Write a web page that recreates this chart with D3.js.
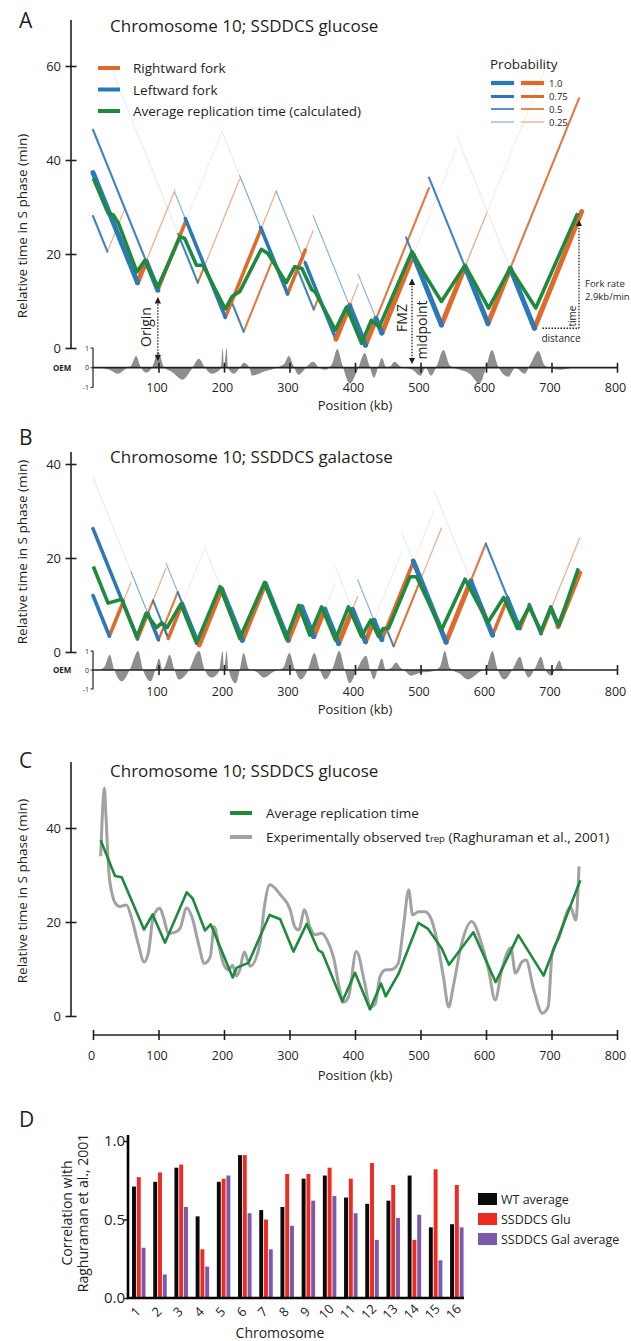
<!DOCTYPE html>
<html><head><meta charset="utf-8">
<script src="https://cdn.jsdelivr.net/npm/d3@7"></script>
<style>
body{margin:0;background:#fff;}
svg{display:block;}
</style></head><body>
<svg id="chart" width="631" height="1341"></svg>
<script>
// ---------------- DATA ----------------
const forkRate = 2.9; // kb/min
const positionTicks = [100, 200, 300, 400, 500, 600, 700, 800];
const positionTicksC = [0, 100, 200, 300, 400, 500, 600, 700, 800];
const timeTicksA = [0, 20, 40, 60];
const timeTicksB = [0, 20, 40];
const probabilityLevels = [1.0, 0.75, 0.5, 0.25];

// Panel A (glucose): origins [kb, firing time min]
const glucoseOrigins = [[22,20.5],[68,13.9],[99,12.3],[160,13.9],[202,6.5],[230,3.5],[297,11.5],[337,8.2],[371,1.9],[416,0.6],[441,3.2],[532,4.9],[603,5.2],[674,4.2]];
// forks: [origin index, end kb, probability]
const glucoseForks = [
 [1,0,1],[1,81,1],[2,81,1],[2,141,0.75],[3,130,0.5],[3,170,0.5],[4,141,0.75],[4,256,0.75],[5,211,0.5],[5,275,0.5],
 [6,256,0.75],[6,324,0.75],[7,312,0.5],[7,344,0.5],[8,324,0.75],[8,392,1],[9,392,1],[9,432,1],[10,432,1],[10,489,1],
 [11,489,1],[11,568,1],[12,568,1],[12,637,1],[13,637,1],[13,746,1],
 [0,0,0.5],[0,48,0.25],[2,0,0.5],[3,26,0.1],[1,125,0.25],[4,125,0.25],[2,197,0.1],[6,197,0.1],[3,224,0.25],[6,224,0.25],
 [4,280,0.25],[8,280,0.25],[6,336,0.25],[9,336,0.25],[8,405,0.25],[10,405,0.25],[9,513,0.5],[12,513,0.5],[11,478,0.5],
 [10,555,0.1],[13,555,0.1],[11,601,0.25],[12,742,0.5],[11,696,0.1]
];
const glucoseAverage = [[0.5,36.1],[23,28.7],[31,28.3],[39,26.5],[67,16.2],[79,18.6],[99,13.0],[133,23.7],[140,23.3],[158,17.6],[168,17.6],[202,8.3],[212,10.9],[224,12.0],[257,21.0],[267,20.1],[295,13.9],[308,17.3],[319,16.9],[334,12.4],[339,12.0],[370,3.8],[387,8.7],[410,1.0],[425,5.9],[437,4.5],[487,20.5],[504,16.2],[532,9.9],[568,17.6],[604,8.5],[637,17.0],[676,8.5],[740,28.7]];
const glucoseOEM = [[10,0],[25,-0.1],[38,-0.3],[50,-0.05],[58,0.1],[66,0.6],[72,0.1],[81,-0.25],[90,0],[100,0.8],[108,0.05],[120,-0.2],[137,-0.6],[150,-0.1],[162,0.45],[170,0.05],[181,-0.3],[195,-0.05],[198,1.0],[200,0],[204,1.0],[206,0],[215,-0.3],[225,0.05],[230,0.25],[238,0.05],[243,-0.4],[260,-0.2],[280,0],[292,0.2],[299,0.6],[306,0.1],[314,-0.35],[325,0],[336,0.3],[345,0],[355,-0.1],[365,0.2],[373,0.95],[381,0.1],[392,-0.8],[404,-0.1],[415,0.75],[422,0.1],[429,-0.5],[436,0.1],[441,0.5],[448,0],[455,0.1],[460,0.3],[470,0.05],[488,-0.1],[500,-0.4],[508,0],[516,-0.4],[525,0.1],[535,0.9],[545,0.1],[560,-0.1],[575,-0.3],[590,-0.8],[600,0],[609,0.9],[618,0.1],[634,-0.45],[645,0],[659,-0.3],[668,0.2],[680,0.85],[690,0.1],[714,-0.1],[730,0]];

// Panel B (galactose)
const galactoseOrigins = [[25,3.4],[68,2.8],[100,2.6],[115,2.9],[162,1.5],[228,2.5],[298,2.5],[337,3.3],[375,1.8],[416,2.2],[441,2.6],[459,1.2],[539,2.1],[610,3.6],[652,5.0],[684,3.9],[710,5.4]];
const galactoseForks = [
 [0,0,0.75],[1,0,0.75],[0,46.5,0.75],[1,83.7,0.75],[2,83.7,0.75],[2,108,0.5],[3,108,0.5],[1,91.6,0.5],[3,91.6,0.5],
 [2,129.4,0.5],[4,129.4,0.5],[3,136.5,0.75],[4,136.5,0.75],[4,196.5,1],[5,196.5,1],[5,263,1],[6,263,1],[6,318.7,1],[7,318.7,1],
 [7,353.8,1],[8,353.8,1],[8,396,1],[9,396,1],[9,429,1],[10,429,1],[10,489,0.75],[12,489,1],[11,448,0.5],[11,500,0.5],
 [12,577,1],[13,577,1],[13,633,0.75],[14,633,0.75],[14,666,0.75],[15,666,0.75],[15,699,0.75],[16,699,0.75],[16,743,1],
 [12,600,0.5],[14,600,0.5],[15,743,0.25],
 [2,0,0.1],[0,58,0.25],[2,58,0.25],[1,111.5,0.25],[4,111.5,0.25],[3,170,0.1],[5,170,0.1],[7,370,0.1],[9,370,0.1],
 [8,404,0.25],[10,404,0.25],[9,471,0.1],[12,471,0.1],[10,521,0.1],[13,521,0.1],[11,532,0.25]
];
const galactoseAverage = [[0.5,18.2],[23,10.4],[44,11.2],[67,3.2],[81,8.2],[97,5.2],[105,6.2],[113,5.2],[134,10.2],[158,1.9],[194,13.9],[224,2.9],[262,14.8],[295,2.9],[314,9.9],[331,3.6],[349,9.6],[370,2.6],[390,9.6],[410,3.3],[424,6.8],[436,3.3],[443,5.0],[451,5.0],[484,16.0],[494,16.0],[532,4.7],[568,15.5],[603,6.3],[627,11.6],[648,5.0],[666,9.6],[684,4.4],[699,9.6],[711,5.6],[741,17.8]];
const galactoseOEM = [[10,0],[18,0.2],[25.6,0.8],[32,0.05],[44,-0.6],[56,0],[69,1.0],[76,0.05],[88,-0.6],[96,0.1],[101,0.6],[106,0],[110,0.2],[117,0.8],[124,0.05],[131,-0.5],[145,-0.1],[162,1.0],[170,0.05],[181,-0.4],[192,-0.1],[198,1.0],[200,0],[204,1.0],[207,0],[218,-0.7],[224,0],[230,0.9],[238,0.05],[250,-0.1],[261,-0.4],[275,-0.1],[290,0.1],[300,0.9],[308,0.05],[317,-0.5],[328,0],[338,0.9],[346,0.05],[355,-0.5],[366,0.1],[376,1.0],[384,0.05],[392,-0.7],[404,0.1],[417,0.75],[423,0],[429,-0.5],[435,0.1],[441,0.6],[447,0],[455,0.1],[463,0.4],[470,0.1],[478,-0.1],[485,-0.3],[500,-0.15],[520,-0.05],[530,0.2],[537,1.0],[545,0.1],[560,-0.2],[572,-0.5],[590,-0.1],[600,0.1],[610,1.0],[617,0.1],[628,-0.5],[640,0],[652,0.7],[658,0.05],[665,-0.4],[675,0.1],[684,0.7],[690,0.05],[700,-0.3],[706,0.1],[712,0.5],[718,0.05],[730,0]];

// Panel C
const averageTimeC = [[11.7,37.4],[33.6,29.8],[43.8,29.5],[77.9,18.4],[91.1,21.6],[109.9,15.6],[143,26.3],[152.2,25.0],[171,18.2],[179.7,19.5],[213.3,8.2],[219.5,10.3],[237.4,11.3],[269.5,21.5],[285.8,20.6],[306,13.7],[326.2,19.6],[344,14.0],[350.1,13.5],[380.6,3.1],[400,9.2],[422.9,1.4],[439.7,6.9],[446.9,4.2],[466.2,8.9],[496.7,19.8],[511,18.6],[532.3,14.4],[543.5,10.9],[580.7,17.8],[614.8,7.2],[649.4,17.2],[688,8.6],[744,28.9]];
const observedTrep = [[11.7,34],[14,42],[17.3,48.5],[20,42],[24,31],[30,25.5],[34,24],[41,23.3],[51,23.6],[59,20.8],[69,15.4],[78,11.5],[85,13.8],[92,21.1],[102,22.9],[108,20.8],[115,17.6],[125,17.8],[133,18.7],[143,23],[151,21.1],[161,15.4],[170,11.2],[179,12.6],[185,19],[192,15],[199,11.2],[207,9.8],[213,10.8],[219,8.5],[224,9.8],[231,13.6],[240,10.6],[255,15.5],[261,22.6],[270,27.9],[286,25.8],[301,22.6],[308,19],[314,18.3],[323,22.6],[331,19],[339,17.3],[349,17.6],[358,16],[367,12.6],[377,5.4],[382,2.9],[390,4],[402,13.7],[415,6.9],[423,1.9],[431,2.6],[438,8.3],[446,9.8],[456,9.9],[466,11.2],[474,19],[482,26.8],[488,21.5],[497,22.2],[507,22.2],[517,20.4],[525,16.2],[535,8.3],[543,1.9],[550,6.3],[563,15.5],[578,20.1],[593,15.5],[604,9.8],[614,3.4],[624,9.8],[638,14.5],[645,9.1],[655,11.5],[661,11.9],[673,5.5],[686,0.6],[695,2],[701,13.3],[711,16.5],[729,23.2],[737,20.4],[742,31.8]];

// Panel D
const chromosomes = ["1","2","3","4","5","6","7","8","9","10","11","12","13","14","15","16"];
const wtAverage   = [0.71,0.74,0.83,0.52,0.74,0.91,0.56,0.58,0.76,0.78,0.64,0.60,0.62,0.78,0.45,0.47];
const ssddcsGlu   = [0.77,0.80,0.85,0.31,0.76,0.91,0.50,0.79,0.79,0.83,0.76,0.86,0.72,0.37,0.82,0.72];
const ssddcsGal   = [0.32,0.15,0.58,0.20,0.78,0.54,0.31,0.46,0.62,0.65,0.54,0.37,0.51,0.53,0.24,0.45];
const barSeries = [
  {key:"WT average", values: wtAverage, color:"#0a0a0a"},
  {key:"SSDDCS Glu", values: ssddcsGlu, color:"#ee2b22"},
  {key:"SSDDCS Gal average", values: ssddcsGal, color:"#7b5aab"}
];

// ---------------- DRAWING ----------------
const FONT = "'Open Sans','Noto Sans',sans-serif";
const INK = "#231f20";
const BLUE = "#2b79b6", ORANGE = "#df6a2c", GREEN = "#1f8a3d", GREY = "#a2a2a2";
const svg = d3.select("#chart").attr("font-family", FONT);

const defs = svg.append("defs");
defs.append("marker").attr("id","arr").attr("viewBox","0 0 6 6").attr("refX",5).attr("refY",3)
  .attr("markerWidth",5).attr("markerHeight",5).attr("orient","auto-start-reverse")
  .append("path").attr("d","M0,0L6,3L0,6Z").attr("fill",INK);

const x = d3.scaleLinear().domain([0,800]).range([93,617]);
const widthFor = d3.scaleLinear().domain([0.1,0.25,0.5,0.75,1]).range([0.7,1.2,2.1,3.6,5]);
const opacityFor = d3.scaleLinear().domain([0.1,0.25,0.5,0.75,1]).range([0.22,0.55,0.9,1,1]);

function text(g, xp, yp, s, o = {}) {
  const t = g.append("text").attr("x", xp).attr("y", yp).text(s)
    .attr("font-size", o.size || 13).attr("fill", o.fill || INK)
    .attr("text-anchor", o.anchor || "start");
  if (o.weight) t.attr("font-weight", o.weight);
  if (o.rotate !== undefined) t.attr("transform", `rotate(${o.rotate},${xp},${yp})`);
  return t;
}

function yAxis(g, scale, xPos, top, values, fmt) {
  const ax = d3.axisLeft(scale).tickValues(values).tickSize(0).tickPadding(10);
  if (fmt) ax.tickFormat(fmt);
  const a = g.append("g").attr("transform", `translate(${xPos},0)`).call(ax)
    .attr("font-family", FONT).attr("font-size", 13);
  a.select(".domain").remove();
  a.append("line").attr("y1", top).attr("y2", scale(0)).attr("stroke", INK).attr("stroke-width", 1.6);
  a.selectAll(".tick").append("line").attr("x1", -5.5).attr("x2", 5.5).attr("stroke", INK).attr("stroke-width", 1.6);
  a.selectAll(".tick text").attr("fill", INK);
  return a;
}

function xAxis(g, yPos, values, baseline) {
  const ax = d3.axisBottom(x).tickValues(values).tickSize(0).tickFormat(d3.format("d"));
  const a = g.append("g").attr("transform", `translate(0,${yPos})`).call(ax)
    .attr("font-family", FONT).attr("font-size", 12.5);
  a.select(".domain").remove();
  a.append("line").attr("x1", x(0)).attr("x2", x(800)).attr("stroke", INK).attr("stroke-width", 1.7);
  a.selectAll(".tick").append("line").attr("y1", -5).attr("y2", 5).attr("stroke", INK).attr("stroke-width", 1.6);
  a.selectAll(".tick text").attr("y", baseline - yPos).attr("dy", 0).attr("fill", INK).attr("dx", -2);
  return a;
}

function forkPanel(origins, forks, average, oem, y, oemY, axisTop, ticks, axisY, tickBaseline, labelCenter, title, titleY, letter, letterY, posLabelY) {
  const g = svg.append("g");
  g.append("path").datum(oem)
    .attr("d", d3.area().x(d => x(d[0])).y0(oemY(0)).y1(d => oemY(d[1])).curve(d3.curveMonotoneX))
    .attr("fill", "#8e8e8e");
  const segs = forks.map(([oi, end, p]) => {
    const o = origins[oi];
    return {x0: o[0], t0: o[1], x1: end, t1: o[1] + Math.abs(end - o[0]) / forkRate, p, left: end < o[0]};
  }).sort((a, b) => (a.p - b.p) || ((a.left ? 1 : 0) - (b.left ? 1 : 0)));
  g.append("g").selectAll("line").data(segs).join("line")
    .attr("x1", d => x(d.x0)).attr("y1", d => y(d.t0))
    .attr("x2", d => x(d.x1)).attr("y2", d => y(d.t1))
    .attr("stroke", d => d.left ? BLUE : ORANGE)
    .attr("stroke-width", d => widthFor(d.p))
    .attr("stroke-opacity", d => opacityFor(d.p))
    .attr("stroke-linecap", "round");
  g.append("path").datum(average)
    .attr("d", d3.line().x(d => x(d[0])).y(d => y(d[1])))
    .attr("fill", "none").attr("stroke", GREEN).attr("stroke-width", 3.6)
    .attr("stroke-linejoin", "round");
  yAxis(g, y, 71, axisTop, ticks);
  xAxis(g, axisY, positionTicks, tickBaseline);
  g.append("line").attr("x1", x(0)).attr("x2", x(0)).attr("y1", oemY(1)).attr("y2", oemY(-1)).attr("stroke", INK).attr("stroke-width", 1.2);
  [1, 0, -1].forEach(v => {
    g.append("line").attr("x1", x(0) - 2.5).attr("x2", x(0)).attr("y1", oemY(v)).attr("y2", oemY(v)).attr("stroke", INK).attr("stroke-width", 1);
    text(g, x(0) - 4, oemY(v) + 2.5, String(v), {size: 7, anchor: "end"});
  });
  text(g, 53, oemY(0) + 3, "OEM", {size: 8, weight: "bold"});
  text(g, 27, labelCenter, "Relative time in S phase (min)", {size: 13.5, anchor: "middle", rotate: -90});
  text(g, 355, posLabelY, "Position (kb)", {size: 13, anchor: "middle"});
  text(g, 110, titleY, title, {size: 17});
  text(g, 19, letterY, letter, {size: 21});
  return g;
}

// Panel A
const yA = d3.scaleLinear().domain([0,60]).range([348,66]);
const oemA = d3.scaleLinear().domain([-1,1]).range([387.5,348]);
const gA = forkPanel(glucoseOrigins, glucoseForks, glucoseAverage, glucoseOEM, yA, oemA, 20, timeTicksA, 367.7, 392, 226, "Chromosome 10; SSDDCS glucose", 32, "A", 28, 410);

[["Rightward fork", ORANGE, 68], ["Leftward fork", BLUE, 89.5], ["Average replication time (calculated)", GREEN, 111]].forEach(([s, c, yy]) => {
  gA.append("line").attr("x1", 98).attr("x2", 120).attr("y1", yy).attr("y2", yy).attr("stroke", c).attr("stroke-width", 4);
  text(gA, 133, yy + 5, s, {size: 13.5});
});
text(gA, 490, 69, "Probability", {size: 13.5});
probabilityLevels.forEach((p, i) => {
  const yy = [83, 96.5, 109, 122][i];
  gA.append("line").attr("x1", 491).attr("x2", 514).attr("y1", yy).attr("y2", yy).attr("stroke", BLUE).attr("stroke-width", widthFor(p) * 0.85).attr("stroke-opacity", Math.max(0.7, opacityFor(p)));
  gA.append("line").attr("x1", 521).attr("x2", 544).attr("y1", yy).attr("y2", yy).attr("stroke", ORANGE).attr("stroke-width", widthFor(p) * 0.85).attr("stroke-opacity", Math.max(0.7, opacityFor(p)));
  text(gA, 549, yy + 3.5, p === 1 ? "1.0" : String(p), {size: 9.5});
});

const originMark = glucoseOrigins[2];
gA.append("line").attr("x1", x(originMark[0])).attr("x2", x(originMark[0]))
  .attr("y1", yA(originMark[1]) + 8).attr("y2", 360)
  .attr("stroke", INK).attr("stroke-width", 1.3).attr("stroke-dasharray", "1.5,1.5")
  .attr("marker-start", "url(#arr)").attr("marker-end", "url(#arr)");
text(gA, 151, 327, "Origin", {size: 14, anchor: "middle", rotate: -90});
const fmzKb = 487, fmzMin = 20.5;
gA.append("line").attr("x1", x(fmzKb)).attr("x2", x(fmzKb))
  .attr("y1", yA(fmzMin) + 28).attr("y2", 363)
  .attr("stroke", INK).attr("stroke-width", 1.3).attr("stroke-dasharray", "1.5,1.5")
  .attr("marker-start", "url(#arr)").attr("marker-end", "url(#arr)");
text(gA, 407, 318, "FMZ", {size: 14, anchor: "middle", rotate: -90});
text(gA, 427, 330, "midpoint", {size: 14, anchor: "middle", rotate: -90});
const lastO = glucoseOrigins[13], endKb = 742;
const endMin = lastO[1] + (endKb - lastO[0]) / forkRate;
gA.append("line").attr("x1", x(lastO[0]) + 8).attr("x2", x(endKb)).attr("y1", yA(lastO[1])).attr("y2", yA(lastO[1]))
  .attr("stroke", INK).attr("stroke-width", 1.3).attr("stroke-dasharray", "1.5,1.5");
gA.append("line").attr("x1", x(endKb)).attr("x2", x(endKb)).attr("y1", yA(lastO[1])).attr("y2", yA(endMin) + 3)
  .attr("stroke", INK).attr("stroke-width", 1.3).attr("stroke-dasharray", "1.5,1.5").attr("marker-end", "url(#arr)");
text(gA, 576, 316, "time", {size: 10, anchor: "middle", rotate: -90});
text(gA, 561, 342, "distance", {size: 10, anchor: "middle"});
text(gA, 585, 287, "Fork rate", {size: 9.5});
text(gA, 585, 300, "2.9kb/min", {size: 9.5});

// Panel B
const yB = d3.scaleLinear().domain([0,40]).range([652,464]);
const oemB = d3.scaleLinear().domain([-1,1]).range([689,651]);
forkPanel(galactoseOrigins, galactoseForks, galactoseAverage, galactoseOEM, yB, oemB, 452, timeTicksB, 670, 696, 552, "Chromosome 10; SSDDCS galactose", 463, "B", 445, 714);

// Panel C
const yC = d3.scaleLinear().domain([0,40]).range([1016,828]);
const gC = svg.append("g");
gC.append("path").datum(observedTrep)
  .attr("d", d3.line().x(d => x(d[0])).y(d => yC(d[1])).curve(d3.curveMonotoneX))
  .attr("fill", "none").attr("stroke", GREY).attr("stroke-width", 3).attr("stroke-linejoin", "round");
gC.append("path").datum(averageTimeC)
  .attr("d", d3.line().x(d => x(d[0])).y(d => yC(d[1])))
  .attr("fill", "none").attr("stroke", GREEN).attr("stroke-width", 2.6).attr("stroke-linejoin", "round");
yAxis(gC, yC, 71, 762, timeTicksB);
xAxis(gC, 1035, positionTicksC, 1060);
text(gC, 27, 891, "Relative time in S phase (min)", {size: 13.5, anchor: "middle", rotate: -90});
text(gC, 355, 1080, "Position (kb)", {size: 13, anchor: "middle"});
text(gC, 110, 777, "Chromosome 10; SSDDCS glucose", {size: 17});
text(gC, 19, 768, "C", {size: 21});
gC.append("line").attr("x1", 230).attr("x2", 252).attr("y1", 813).attr("y2", 813).attr("stroke", GREEN).attr("stroke-width", 4);
gC.append("line").attr("x1", 230).attr("x2", 252).attr("y1", 837).attr("y2", 837).attr("stroke", GREY).attr("stroke-width", 4);
text(gC, 266, 818, "Average replication time", {size: 13.5});
const expT = text(gC, 266, 842, "Experimentally observed t", {size: 13.5});
expT.append("tspan").attr("font-size", 9.5).text("rep");
expT.append("tspan").text(" (Raghuraman et al., 2001)");

// Panel D
const gD = svg.append("g");
const yD = d3.scaleLinear().domain([0,1]).range([1298,1141]);
const xD = d3.scaleBand().domain(chromosomes).range([128,467.6]).paddingInner(0.363).paddingOuter(0.19);
const xSub = d3.scaleBand().domain(barSeries.map(s => s.key)).range([0, xD.bandwidth()]).paddingInner(0.18);
barSeries.forEach(s => {
  gD.append("g").selectAll("rect").data(chromosomes).join("rect")
    .attr("x", (c) => xD(c) + xSub(s.key))
    .attr("width", xSub.bandwidth())
    .attr("y", (c, i) => yD(s.values[i]))
    .attr("height", (c, i) => yD(0) - yD(s.values[i]))
    .attr("fill", s.color);
});
const axD = d3.axisLeft(yD).tickValues([0, 0.5, 1]).tickFormat(d3.format(".1f")).tickSize(4).tickPadding(-1);
const aD = gD.append("g").attr("transform", "translate(128,0)").call(axD).attr("font-family", FONT).attr("font-size", 15);
aD.select(".domain").remove();
aD.selectAll(".tick line").attr("stroke", INK).attr("stroke-width", 1.5);
aD.selectAll(".tick text").attr("fill", INK);
gD.append("line").attr("x1", 128).attr("x2", 128).attr("y1", 1135).attr("y2", 1299).attr("stroke", "#000").attr("stroke-width", 2.6);
gD.append("line").attr("x1", 127).attr("x2", 464).attr("y1", 1298).attr("y2", 1298).attr("stroke", "#000").attr("stroke-width", 2.6);
chromosomes.forEach(c => {
  const cx = xD(c) + xD.bandwidth() / 2;
  text(gD, cx, 1315, c, {size: 13, anchor: "middle", rotate: -45});
});
text(gD, 280, 1338, "Chromosome", {size: 14, anchor: "middle"});
text(gD, 72, 1213, "Correlation with", {size: 14, anchor: "middle", rotate: -90});
text(gD, 88, 1213, "Raghuraman et al., 2001", {size: 14, anchor: "middle", rotate: -90});
text(gD, 19, 1127, "D", {size: 21});
barSeries.forEach((s, i) => {
  const yy = [1199, 1219, 1239][i];
  gD.append("rect").attr("x", 478).attr("y", yy - 6).attr("width", 19).attr("height", 12).attr("fill", s.color);
  text(gD, 501, yy + 4.5, s.key, {size: 12.5});
});
</script>
</body></html>
